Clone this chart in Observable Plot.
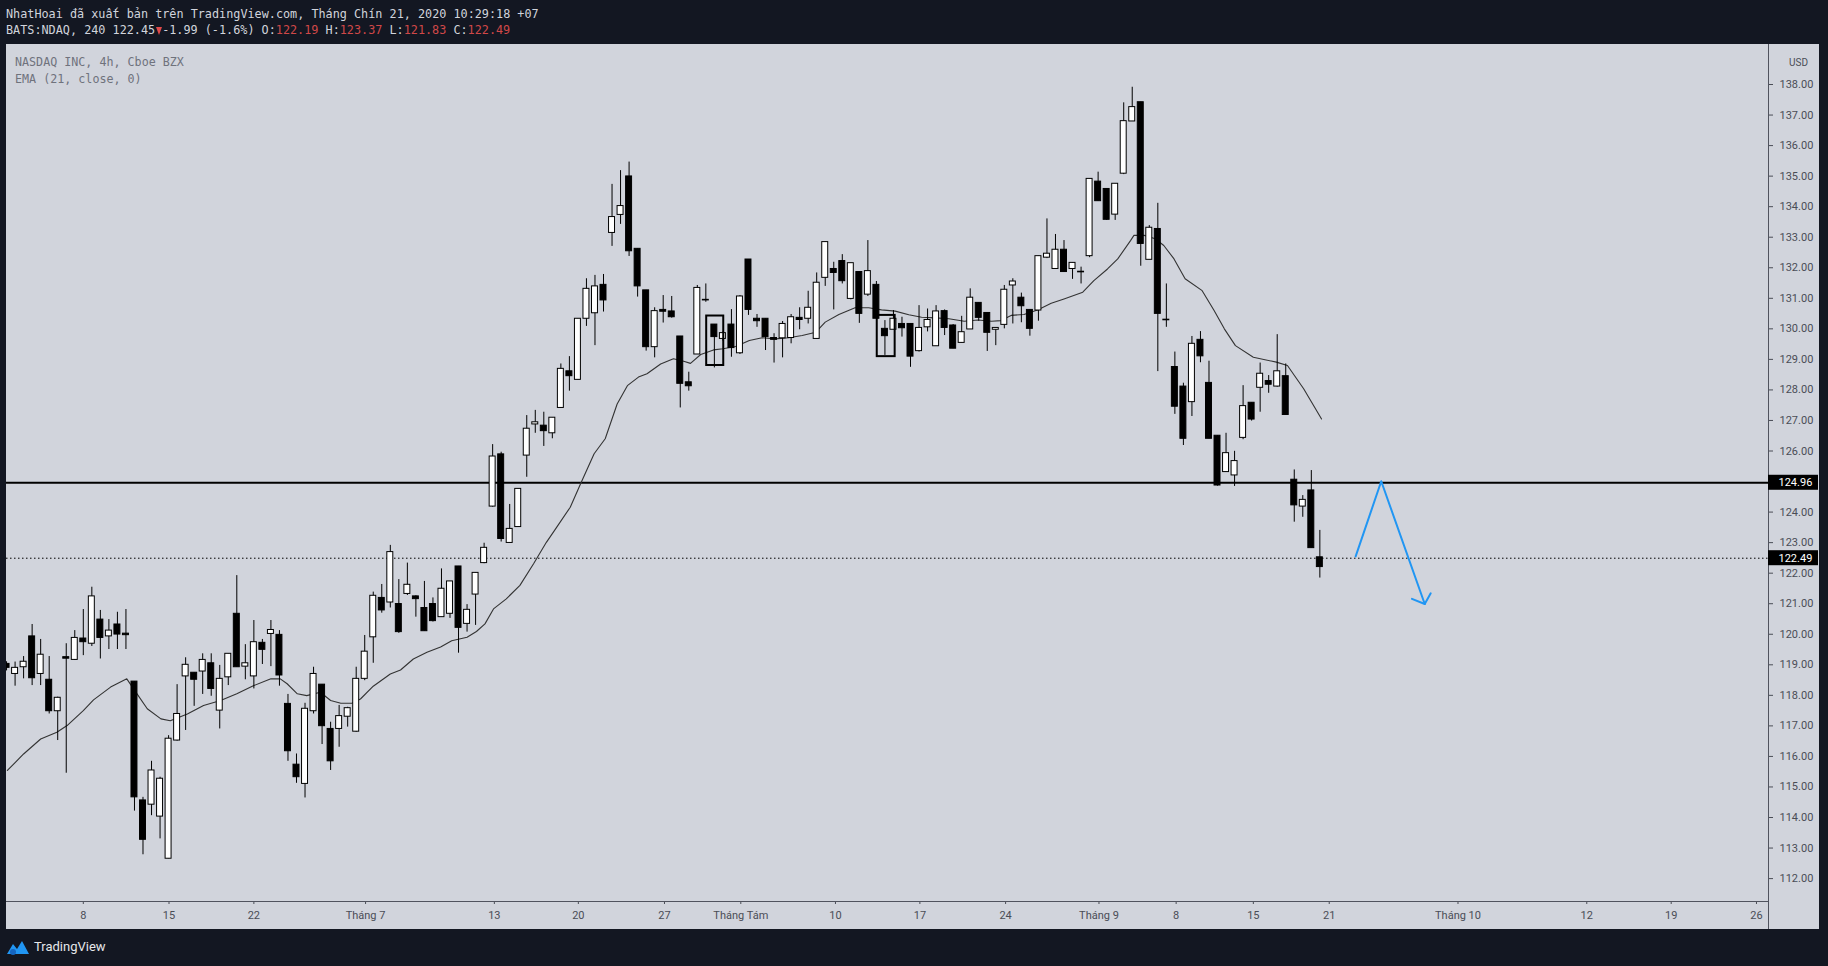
<!DOCTYPE html>
<html><head><meta charset="utf-8">
<script src="https://cdn.jsdelivr.net/npm/d3@7"></script>
<script src="https://cdn.jsdelivr.net/npm/@observablehq/plot@0.6"></script>
<style>
html,body{margin:0;padding:0;background:#131722;width:1828px;height:966px;overflow:hidden}
#hdr{height:44px;position:relative;font-family:"DejaVu Sans Mono",monospace;font-size:11.8px;color:#d1d4dc}
#hdr div{position:absolute;left:6px;white-space:pre;line-height:14px}
.red{color:#d04848}
.tri{display:inline-block;width:0;height:0;border-left:3.6px solid transparent;border-right:3.6px solid transparent;border-top:8px solid #e04a4a;vertical-align:-1px;margin:0 0.5px}
#pane{position:relative;margin-left:6px;width:1813px;height:885px;background:#d1d4dc}
#pane svg{display:block}
#legend{position:absolute;left:9px;top:10px;font-family:"DejaVu Sans Mono",monospace;font-size:11.7px;color:#6f727c;line-height:17px;white-space:pre}
#ftr{height:37px;position:relative;color:#e6e7ea;font-family:Roboto,sans-serif;font-size:13px}
#ftr svg{position:absolute;left:6px;top:10px}
#ftr span{position:absolute;left:34px;top:10px}
</style></head><body>
<div id="hdr"><div style="top:7px">NhatHoai đã xuất bản trên TradingView.com, Tháng Chín 21, 2020 10:29:18 +07</div><div style="top:23px">BATS:NDAQ, 240 122.45<span class="tri"></span>-1.99 (-1.6%) O:<span class="red">122.19</span> H:<span class="red">123.37</span> L:<span class="red">121.83</span> C:<span class="red">122.49</span></div></div>
<div id="pane"><div id="legend">NASDAQ INC, 4h, Cboe BZX
EMA (21, close, 0)</div></div>
<div id="ftr"><svg width="24" height="18" viewBox="0 0 24 18"><path d="M1 15 L7 5 L11 10 L16 2 L23 15 Z" fill="#2196f3"/><circle cx="7" cy="13" r="3" fill="#1565c0"/></svg><span>TradingView</span></div>
<script>
// ---- data ----
const firstIndex = -9; // candle index of the first visible 4h bar (index 0 = 8 June, first bar)
const opens = [119.03,118.70,118.92,119.93,118.70,118.51,117.48,119.25,119.16,
119.86,119.69,120.48,119.93,120.32,120.02,118.45,114.56,114.42,114.03,
112.65,116.52,118.62,118.74,118.78,119.05,117.50,118.59,120.67,118.94,
118.62,119.72,120.01,119.98,117.72,115.73,115.10,117.48,118.35,116.90,
116.90,117.30,116.81,118.54,119.90,121.19,121.04,120.99,121.32,121.24,
120.86,120.99,120.56,120.67,122.22,120.34,121.30,122.33,124.18,125.89,
122.99,123.51,125.85,126.87,126.83,126.58,127.41,128.61,128.33,130.33,
130.51,131.44,133.14,133.73,134.99,132.62,131.26,129.40,130.62,130.57,
129.75,128.25,129.16,130.93,130.14,129.67,130.14,129.20,132.27,130.33,
130.33,129.70,129.69,129.70,130.36,130.33,129.67,131.67,131.96,132.22,
130.98,131.86,131.12,131.44,130.00,129.97,130.16,130.16,129.27,130.05,
129.43,130.58,130.11,129.54,129.98,130.85,130.52,129.97,130.13,131.42,
131.02,130.62,130.60,132.33,131.96,132.59,131.96,131.85,132.38,134.82,
134.58,133.74,135.08,136.79,137.42,132.26,133.27,130.30,128.75,128.11,
127.60,129.64,128.23,126.50,125.31,125.20,126.43,127.58,128.07,128.29,
128.11,128.45,125.06,124.18,124.71,122.52];
const highs = [119.10,119.09,119.27,120.32,119.83,119.27,117.94,119.69,120.12,
120.81,121.54,120.78,120.48,120.72,120.81,118.45,114.66,115.84,115.32,
116.68,118.35,119.23,118.74,119.36,119.36,118.98,119.36,121.92,119.66,
120.45,119.83,120.45,120.12,118.03,116.08,117.74,118.92,118.35,117.12,
117.67,117.61,118.92,119.96,121.38,121.63,122.91,121.79,122.33,121.26,
121.73,121.19,122.14,121.73,122.22,120.97,122.01,122.98,126.21,125.96,
124.25,124.76,127.16,127.33,127.27,127.09,128.85,129.09,130.33,131.64,
131.75,131.78,134.73,135.18,135.46,132.62,131.26,130.69,131.09,131.06,
129.75,128.58,131.42,131.47,130.14,129.90,130.63,131.09,132.27,130.47,
130.33,129.84,130.24,130.47,130.69,131.23,131.83,132.84,132.18,132.43,
132.15,131.86,132.89,131.55,130.27,130.60,130.38,130.16,130.76,130.65,
130.76,130.62,130.14,130.41,131.31,130.85,130.52,130.03,131.42,131.64,
131.17,130.62,132.38,133.60,133.09,132.89,132.16,132.02,134.91,135.13,
134.58,134.75,137.40,137.91,137.42,133.38,134.11,131.47,129.24,128.22,
129.75,129.91,128.94,126.50,126.58,125.99,128.14,127.58,128.88,128.47,
129.81,128.85,125.38,124.54,125.36,123.40];
const lows = [118.80,118.30,118.54,118.32,118.32,117.39,116.52,115.45,119.14,
119.30,119.60,119.19,119.50,119.50,119.50,114.21,112.78,114.06,113.30,
112.65,116.50,116.85,117.64,118.03,117.97,116.90,118.32,118.92,118.51,
118.21,119.01,118.94,118.30,115.84,115.12,114.64,117.39,116.39,115.54,
116.30,116.96,116.79,118.48,119.05,120.69,120.86,120.03,121.27,120.56,
120.10,120.40,120.56,120.52,119.38,120.07,120.29,122.31,124.16,123.02,
122.99,123.51,125.14,126.58,126.15,126.40,127.41,127.96,128.33,130.08,
129.45,130.55,132.70,133.42,132.37,131.04,129.27,129.05,130.19,130.35,
127.41,127.96,129.16,130.87,128.72,129.60,129.07,129.16,130.44,130.05,
129.29,128.88,129.05,129.51,129.97,130.16,129.67,131.39,130.62,131.47,
130.95,130.18,131.06,130.33,129.13,129.97,129.73,128.74,129.24,129.90,
129.43,129.78,129.35,129.54,129.98,130.25,129.26,129.45,130.00,130.16,
130.20,129.76,130.25,132.30,131.96,131.86,131.62,131.47,132.33,134.18,
133.55,133.55,135.05,136.79,132.05,132.26,128.60,130.05,127.20,126.18,
127.13,128.89,126.40,124.85,125.31,124.84,126.37,126.98,127.27,127.89,
128.09,127.18,123.67,123.83,122.82,121.84];
const closes = [118.90,118.90,119.10,118.56,119.33,117.48,117.92,119.20,119.88,
119.74,121.24,119.88,120.12,119.99,119.97,114.66,113.27,115.54,115.27,
116.58,117.39,119.00,118.51,119.16,118.21,118.54,119.36,118.92,119.05,
119.74,119.49,120.14,118.65,116.17,115.32,117.56,118.70,116.99,115.84,
117.32,117.58,118.54,119.43,121.26,120.78,122.69,120.07,121.62,121.15,
120.10,120.43,121.49,121.73,120.21,120.80,122.01,122.83,125.82,123.12,
123.45,124.76,126.73,126.94,126.65,127.09,128.69,128.45,130.33,131.31,
131.39,130.93,133.66,134.02,132.54,131.39,129.40,130.58,130.56,130.38,
128.20,128.12,131.34,130.95,129.73,129.86,129.37,131.06,130.62,130.25,
129.73,129.64,130.16,130.38,130.29,130.69,131.51,132.84,131.83,131.56,
132.15,130.49,131.89,130.33,129.76,130.33,130.02,129.09,130.03,130.29,
130.57,130.03,129.35,129.89,131.02,130.36,129.87,130.03,131.28,131.55,
130.74,130.00,132.38,132.46,132.59,131.86,132.16,131.87,134.91,134.18,
133.57,134.75,136.80,137.26,132.78,133.31,130.49,130.28,127.45,126.40,
129.51,129.10,126.40,124.87,125.93,125.67,127.47,127.03,128.53,128.17,
128.61,127.18,124.22,124.40,122.82,122.20];

const emaIdx = [-8.9,-7.0,-5.0,-3.1,-1.9,0.0,1.2,3.2,5.1,6.3,7.5,9.1,10.2,12.2,14.1,16.1,18.0,20.0,22.0,23.1,23.9,25.1,26.2,27.8,29.0,30.2,31.5,32.5,34.0,36.0,37.2,38.7,40.3,41.9,43.2,45.0,46.1,47.1,48.1,49.6,51.2,52.8,54.3,55.5,57.1,58.3,59.9,61.2,62.6,63.8,65.1,66.1,67.7,69.2,70.4,71.2,72.4,73.9,75.0,76.5,78.1,79.6,81.2,82.7,84.3,85.9,87.0,88.6,90.5,92.1,93.6,95.2,96.8,98.3,99.9,101.5,103.3,104.9,106.5,107.6,108.8,110.3,111.9,113.5,115.0,117.2,118.5,120.1,121.3,122.8,123.2,124.4,125.7,126.7,127.9,129.2,131.2,132.6,133.8,135.1,137.2,139.9,141.2,143.1,145.2];
const emaVal = [115.54,116.08,116.57,116.79,117.01,117.50,117.85,118.27,118.54,118.05,117.56,117.23,117.17,117.39,117.67,117.83,118.05,118.32,118.54,118.54,118.38,118.05,117.99,118.10,117.83,117.74,117.74,117.88,118.30,118.70,118.83,119.19,119.41,119.58,119.79,119.90,120.09,120.34,120.83,121.16,121.60,122.31,123.01,123.50,124.16,124.92,125.91,126.40,127.54,128.14,128.42,128.53,128.85,129.02,128.94,128.87,129.16,129.31,129.35,129.42,129.62,129.71,129.67,129.71,129.78,129.89,130.22,130.47,130.69,130.69,130.62,130.58,130.46,130.38,130.36,130.33,130.25,130.29,130.25,130.27,130.44,130.47,130.62,130.84,130.98,131.20,131.58,131.96,132.29,132.89,133.06,133.06,132.95,132.73,132.29,131.64,131.25,130.60,130.00,129.45,129.07,128.91,128.80,128.04,127.05];

const tickIdx = [0,10.05,20,33.1,48.2,58.05,68.15,77.1,88.2,98.1,108.15,119.1,128.15,137.2,146.1,161.2,176.3,186.2,196.2];
const tickLabels = ["8","15","22","Tháng 7","13","20","27","Tháng Tám","10","17","24","Tháng 9","8","15","21","Tháng 10","12","19","26"];
const priceTicks = [112,113,114,115,116,117,118,119,120,121,122,123,124,125,126,127,128,129,130,131,132,133,134,135,136,137,138];

const supportLevel = 124.96;
const lastPrice = 122.49;
const boxX1 = [73.1, 93.1], boxX2 = [75.1, 95.2], boxLow = [128.80, 129.09], boxHigh = [130.42, 130.44];
const arrowX = [149.2, 152.2, 157.3], arrowY = [122.55, 125.01, 120.99];
const headX = [155.8, 157.3, 158.0], headY = [121.16, 120.99, 121.34];

// ---- build ----
const candles = opens.map((o, k) => ({i: firstIndex + k, o, h: highs[k], l: lows[k], c: closes[k]}));
const ema = emaIdx.map((x, k) => ({x, y: emaVal[k]}));
const boxes = boxX1.map((x1, k) => ({x1, x2: boxX2[k], y1: boxLow[k], y2: boxHigh[k]}));
const arrow = arrowX.map((x, k) => ({x, y: arrowY[k]}));
const head = headX.map((x, k) => ({x, y: headY[k]}));
const priceLabels = [{v: supportLevel}, {v: lastPrice}];
const labelMap = new Map(tickIdx.map((t, k) => [t, tickLabels[k]]));

const W = 1813, H = 885, mR = 51, mB = 28;
const xDomain = [-9.006, 197.61];
const yDomain = [111.25, 139.31];
const pxPerUnit = (H - mB) / (yDomain[1] - yDomain[0]);
const halfBox = 7.5 / pxPerUnit;

const chart = Plot.plot({
  width: W, height: H,
  marginLeft: 0, marginRight: mR, marginTop: 0, marginBottom: mB,
  style: {background: "#d1d4dc", color: "#4a4d56", fontFamily: "Roboto, sans-serif", fontSize: "11px"},
  x: {domain: xDomain, ticks: tickIdx, tickFormat: d => labelMap.get(d), tickSize: 3, tickPadding: 7, label: null},
  y: {domain: yDomain, axis: "right", ticks: priceTicks, tickFormat: d => d.toFixed(2), tickSize: 4, tickPadding: 7, label: null},
  marks: [
    Plot.ruleY([supportLevel], {stroke: "#000", strokeWidth: 2}),
    Plot.ruleY([lastPrice], {stroke: "#000", strokeWidth: 1, strokeDasharray: "1.5,2.5"}),
    Plot.line(ema, {x: "x", y: "y", stroke: "#333", strokeWidth: 1.1, clip: true}),
    Plot.ruleX(candles, {x: "i", y1: "l", y2: "h", stroke: "#000", strokeWidth: 1, clip: true}),
    Plot.rect(candles, {
      x1: d => d.i - 0.35, x2: d => d.i + 0.35,
      y1: d => Math.min(d.o, d.c), y2: d => Math.max(d.o, d.c),
      fill: d => d.c < d.o ? "#000000" : "#ffffff", stroke: "#000", strokeWidth: 1, clip: true
    }),
    Plot.rect(boxes, {x1: "x1", x2: "x2", y1: "y1", y2: "y2", fill: "none", stroke: "#000", strokeWidth: 2}),
    Plot.line(arrow, {x: "x", y: "y", stroke: "#2196f3", strokeWidth: 2}),
    Plot.line(head, {x: "x", y: "y", stroke: "#2196f3", strokeWidth: 2}),
    Plot.ruleX([xDomain[1]], {stroke: "#50535e", strokeWidth: 1, insetBottom: -mB}),
    Plot.ruleY([yDomain[0]], {stroke: "#50535e", strokeWidth: 1}),
    Plot.rect(priceLabels, {y1: d => d.v - halfBox, y2: d => d.v + halfBox, fill: "#000", insetLeft: W - mR, insetRight: -(mR - 1)}),
    Plot.text(priceLabels, {y: "v", text: d => d.v.toFixed(2), frameAnchor: "right", textAnchor: "start", dx: 10, fill: "#fff", fontSize: 11}),
    Plot.text(["USD"], {text: d => d, frameAnchor: "top-right", dx: 30, dy: 14, textAnchor: "middle", fill: "#4a4d56", fontSize: 10})
  ]
});
document.getElementById("pane").appendChild(chart);
</script>
</body></html>
